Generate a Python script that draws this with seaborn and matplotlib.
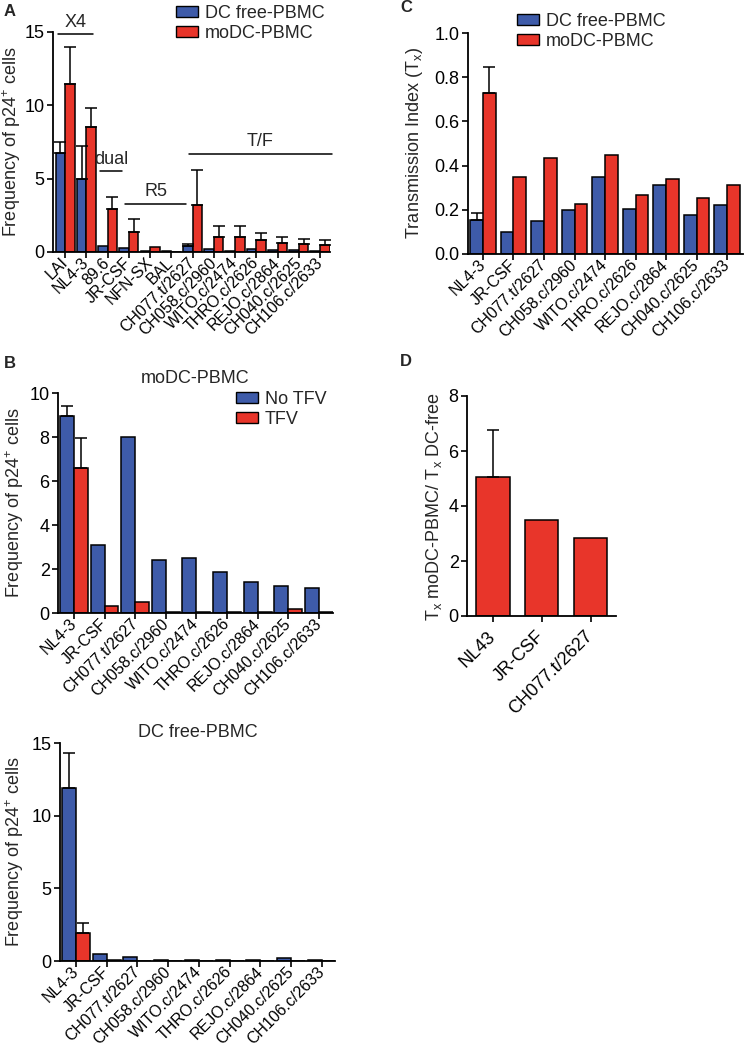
import numpy as np
import pandas as pd
import seaborn as sns
import matplotlib.pyplot as plt
from matplotlib.patches import Patch

# ---- data ----
strains_a = ["LAI", "NL4-3", "89.6", "JR-CSF", "NFN-SX", "BAL", "CH077.t/2627",
             "CH058.c/2960", "WITO.c/2474", "THRO.c/2626", "REJO.c/2864",
             "CH040.c/2625", "CH106.c/2633"]
dcfree_a = [6.75, 4.95, 0.4, 0.25, 0.05, 0.05, 0.4, 0.2, 0.05, 0.2, 0.15, 0.15, 0.1]
dcfree_a_hi = [7.5, 7.25, None, None, None, None, 0.55, None, None, None, None, None, None]
modc_a = [11.45, 8.5, 2.9, 1.35, 0.35, 0.0, 3.2, 1.05, 1.0, 0.8, 0.63, 0.55, 0.5]
modc_a_hi = [14.0, 9.8, 3.75, 2.25, None, None, 5.6, 1.75, 1.75, 1.3, 1.0, 0.9, 0.85]

strains = ["NL4-3", "JR-CSF", "CH077.t/2627", "CH058.c/2960", "WITO.c/2474",
           "THRO.c/2626", "REJO.c/2864", "CH040.c/2625", "CH106.c/2633"]
tx_dcfree = [0.155, 0.10, 0.15, 0.20, 0.35, 0.205, 0.31, 0.175, 0.22]
tx_dcfree_hi = [0.185, None, None, None, None, None, None, None, None]
tx_modc = [0.73, 0.35, 0.435, 0.225, 0.45, 0.265, 0.34, 0.255, 0.31]
tx_modc_hi = [0.845, None, None, None, None, None, None, None, None]

modc_notfv = [8.95, 3.1, 8.0, 2.4, 2.5, 1.85, 1.4, 1.25, 1.15]
modc_notfv_hi = [9.4, None, None, None, None, None, None, None, None]
modc_tfv = [6.6, 0.3, 0.5, 0.05, 0.05, 0.05, 0.05, 0.2, 0.03]
modc_tfv_hi = [7.95, None, None, None, None, None, None, None, None]

dcf_notfv = [11.9, 0.5, 0.3, 0.05, 0.05, 0.05, 0.05, 0.2, 0.05]
dcf_notfv_hi = [14.3, None, None, None, None, None, None, None, None]
dcf_tfv = [1.9, 0.05, 0.02, 0.02, 0.02, 0.02, 0.02, 0.02, 0.02]
dcf_tfv_hi = [2.6, None, None, None, None, None, None, None, None]

ratio_strains = ["NL43", "JR-CSF", "CH077.t/2627"]
ratio = [5.05, 3.5, 2.85]
ratio_hi = [6.78, None, None]

BLUE = "#3E5BA9"
RED = "#E8352A"

sns.set_style("ticks")
plt.rcParams["font.family"] = ["Liberation Sans", "DejaVu Sans"]
plt.rcParams["mathtext.fontset"] = "custom"
plt.rcParams["mathtext.rm"] = "Liberation Sans"
plt.rcParams["mathtext.it"] = "Liberation Sans"


def add_err(ax, bars, hi):
    for p, h in zip(bars, hi):
        if h is None:
            continue
        x = p.get_x() + p.get_width() / 2
        y = p.get_height()
        ax.errorbar(x, y, yerr=[[0], [h - y]], fmt="none", ecolor="black",
                    elinewidth=1.1, capsize=4, capthick=1.1, zorder=1)


def grouped(ax, cats, names, vals, his, width):
    df = pd.DataFrame({"strain": cats * len(names),
                       "group": np.repeat(names, len(cats)),
                       "value": np.concatenate(vals)})
    sns.barplot(data=df, x="strain", y="value", hue="group", order=cats,
                hue_order=names, palette=[BLUE, RED], width=width,
                edgecolor="black", linewidth=1.1, saturation=1,
                errorbar=None, legend=False, ax=ax)
    for bars, hi in zip(ax.containers, his):
        add_err(ax, bars, hi)


def style(ax, ylim, yticks, xsize=11.5, xpad=2):
    sns.despine(ax=ax)
    for s in ["left", "bottom"]:
        ax.spines[s].set_linewidth(1.3)
        ax.spines[s].set_color("black")
    ax.set_ylim(*ylim)
    ax.set_yticks(yticks)
    ax.tick_params(axis="both", length=4, width=1.2, colors="black")
    ax.tick_params(axis="y", labelsize=13, pad=2)
    ax.tick_params(axis="x", labelsize=xsize, pad=xpad)
    plt.setp(ax.get_xticklabels(), rotation=45, ha="right", va="center",
             rotation_mode="anchor")
    ax.set_xlabel("")


def ylabel(ax, text, x):
    ax.set_ylabel(text, fontsize=13)
    ax.yaxis.set_label_coords(x, 0.5)


def legend(ax, labels, x, y):
    handles = [Patch(facecolor=c, edgecolor="black", linewidth=1.0) for c in (BLUE, RED)]
    ax.legend(handles, labels, loc="upper left", bbox_to_anchor=(x, y),
              bbox_transform=fig.transFigure, frameon=False, fontsize=13,
              handlelength=1.2, handleheight=0.6, handletextpad=0.4,
              labelspacing=0.15, borderpad=0, borderaxespad=0)


fig = plt.figure(figsize=(7.44, 10.49), dpi=100)
W, H = 744.0, 1049.0


def axes_px(l, t, r, b):
    return fig.add_axes([l / W, 1 - b / H, (r - l) / W, (b - t) / H])


ylab = "Frequency of p24$^{+}$ cells"

# ---- A ----
axA = axes_px(53, 32, 330, 252)
grouped(axA, strains_a, ["DC free-PBMC", "moDC-PBMC"], [dcfree_a, modc_a],
        [dcfree_a_hi, modc_a_hi], 0.9)
style(axA, (0, 15), [0, 5, 10, 15])
axA.set_xlim(-0.57, 12.47)
ylabel(axA, ylab, (23 - 53) / 277)
legend(axA, ["DC free-PBMC", "moDC-PBMC"], 176 / W, 1 - 5 / H)
groups_a = [("X4", -0.33, 1.33, 14.85), ("dual", 1.66, 2.7, 5.5),
            ("R5", 2.84, 5.69, 3.27), ("T/F", 5.83, 12.56, 6.68)]
for txt, x0, x1, y in groups_a:
    axA.plot([x0, x1], [y, y], color="black", lw=1.1, clip_on=False)
    axA.text((x0 + x1) / 2, y + 0.25, txt, ha="center", va="bottom", fontsize=13,
             clip_on=False)

# ---- C ----
axC = axes_px(468, 33, 743, 254)
grouped(axC, strains, ["DC free-PBMC", "moDC-PBMC"], [tx_dcfree, tx_modc],
        [tx_dcfree_hi, tx_modc_hi], 0.83)
style(axC, (0, 1.0), [0, 0.2, 0.4, 0.6, 0.8, 1.0])
axC.set_yticklabels(["0.0", "0.2", "0.4", "0.6", "0.8", "1.0"])
axC.set_xlim(-0.49, 8.52)
ylabel(axC, "Transmission Index (T$_{x}$)", (425 - 468) / 275)
legend(axC, ["DC free-PBMC", "moDC-PBMC"], 517 / W, 1 - 13 / H)

# ---- B top ----
axB1 = axes_px(58, 393, 333, 613)
grouped(axB1, strains, ["No TFV", "TFV"], [modc_notfv, modc_tfv],
        [modc_notfv_hi, modc_tfv_hi], 0.91)
style(axB1, (0, 10), [0, 2, 4, 6, 8, 10])
axB1.set_xlim(-0.52, 8.46)
ylabel(axB1, ylab, (26 - 58) / 275)
axB1.set_title("moDC-PBMC", fontsize=13, pad=7)
legend(axB1, ["No TFV", "TFV"], 236 / W, 1 - 391 / H)

# ---- B bottom ----
axB2 = axes_px(60, 743, 335, 961)
grouped(axB2, strains, ["No TFV", "TFV"], [dcf_notfv, dcf_tfv],
        [dcf_notfv_hi, dcf_tfv_hi], 0.91)
style(axB2, (0, 15), [0, 5, 10, 15])
axB2.set_xlim(-0.52, 8.43)
ylabel(axB2, ylab, (26 - 60) / 275)
axB2.set_title("DC free-PBMC", fontsize=13, pad=4)

# ---- D ----
axD = axes_px(467, 396, 616, 616)
sns.barplot(x=ratio_strains, y=ratio, color=RED, width=0.68, edgecolor="black",
            linewidth=1.1, saturation=1, errorbar=None, ax=axD)
add_err(axD, axD.containers[0], ratio_hi)
style(axD, (0, 8), [0, 2, 4, 6, 8], xsize=13, xpad=9)
axD.set_xlim(-0.53, 2.52)
ylabel(axD, "T$_{x}$ moDC-PBMC/ T$_{x}$ DC-free", (444 - 467) / 149)

# panel letters
for lab, x, y in [("A", 4, 12), ("B", 4, 363), ("C", 400, 8), ("D", 400, 362)]:
    fig.text(x / W, 1 - y / H, lab, fontsize=12, fontweight="bold", va="center")

fig.savefig("out.png", dpi=100)
